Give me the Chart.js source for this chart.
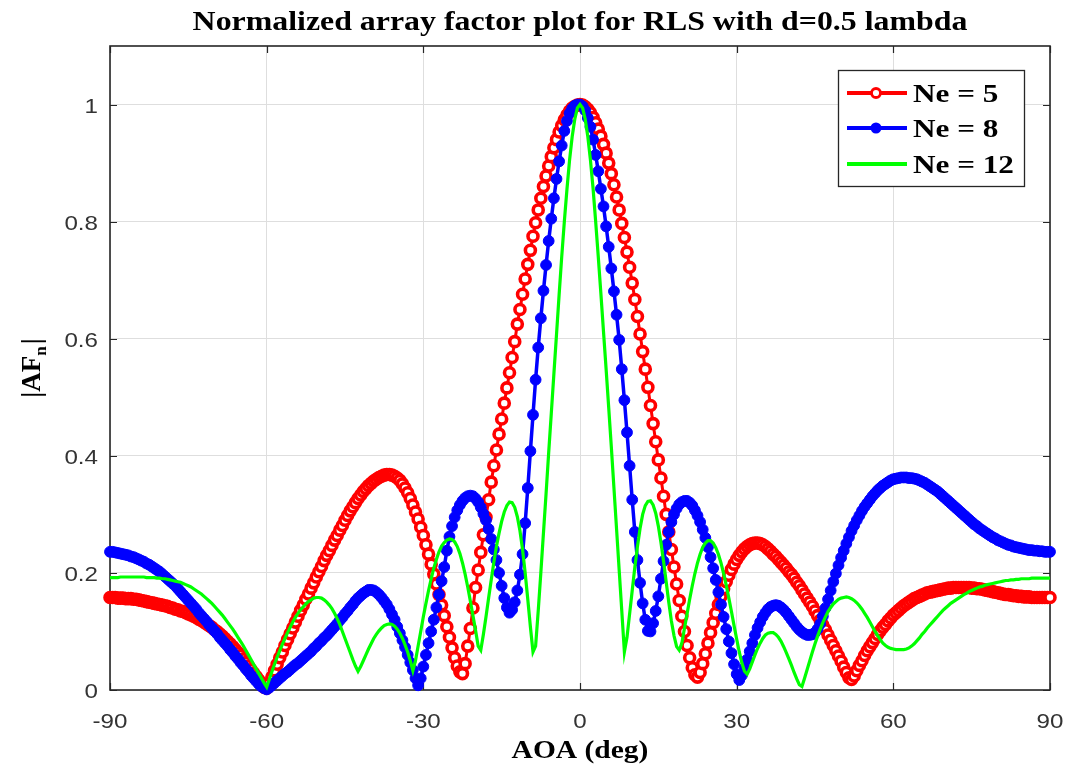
<!DOCTYPE html>
<html>
<head>
<meta charset="utf-8">
<title>Normalized array factor plot for RLS</title>
<script src="https://cdn.jsdelivr.net/npm/chart.js@4.4.0/dist/chart.umd.min.js"></script>
<style>
  html, body { margin: 0; padding: 0; background: #ffffff; }
  #contenedor { width: 1066px; height: 771px; }
</style>
</head>
<body>
<div id="contenedor"><canvas id="graficoAF" width="1066" height="771"></canvas></div>
<script>
// Rejilla de ángulos de llegada: de -90 a 90 grados, cada 0.5
const aoaInicio = -90;
const aoaPaso = 0.5;

// |AF_n|, una fila = 5 grados
const afNe5 = [
  0.158,0.158,0.158,0.157,0.157,0.157,0.156,0.156,0.156,0.155,
  0.155,0.154,0.153,0.152,0.151,0.150,0.149,0.148,0.147,0.146,
  0.145,0.144,0.143,0.141,0.140,0.138,0.137,0.135,0.134,0.132,
  0.130,0.128,0.126,0.124,0.121,0.119,0.116,0.113,0.110,0.107,
  0.103,0.100,0.096,0.092,0.088,0.083,0.079,0.074,0.069,0.064,
  0.059,0.053,0.047,0.041,0.035,0.029,0.023,0.017,0.011,0.005,
  0.003,0.012,0.022,0.033,0.044,0.055,0.065,0.076,0.086,0.096,
  0.106,0.116,0.126,0.136,0.145,0.155,0.164,0.174,0.183,0.193,
  0.202,0.211,0.221,0.230,0.238,0.247,0.256,0.264,0.273,0.281,
  0.290,0.298,0.306,0.313,0.320,0.327,0.333,0.339,0.344,0.349,
  0.353,0.357,0.360,0.363,0.365,0.367,0.368,0.368,0.367,0.365,
  0.362,0.358,0.352,0.345,0.337,0.327,0.316,0.304,0.292,0.278,
  0.264,0.248,0.232,0.215,0.198,0.181,0.163,0.145,0.127,0.108,
  0.090,0.072,0.055,0.041,0.031,0.028,0.045,0.075,0.105,0.140,
  0.175,0.205,0.235,0.265,0.295,0.325,0.355,0.383,0.410,0.437,
  0.463,0.490,0.516,0.542,0.568,0.595,0.625,0.650,0.676,0.702,
  0.727,0.751,0.775,0.798,0.820,0.840,0.860,0.878,0.895,0.911,
  0.926,0.940,0.953,0.964,0.974,0.982,0.989,0.994,0.997,0.999,
  1.000,0.999,0.996,0.992,0.986,0.978,0.969,0.958,0.946,0.932,
  0.917,0.900,0.882,0.863,0.842,0.820,0.797,0.773,0.748,0.722,
  0.695,0.667,0.638,0.608,0.578,0.548,0.517,0.486,0.455,0.424,
  0.393,0.362,0.331,0.300,0.270,0.240,0.210,0.181,0.153,0.126,
  0.100,0.076,0.055,0.038,0.026,0.022,0.030,0.045,0.062,0.080,
  0.098,0.115,0.131,0.146,0.160,0.173,0.185,0.196,0.206,0.215,
  0.223,0.230,0.236,0.241,0.245,0.248,0.250,0.251,0.251,0.250,
  0.248,0.245,0.241,0.237,0.232,0.228,0.223,0.218,0.213,0.208,
  0.202,0.197,0.191,0.184,0.178,0.171,0.164,0.157,0.150,0.143,
  0.135,0.127,0.119,0.111,0.103,0.094,0.085,0.076,0.067,0.058,
  0.049,0.039,0.030,0.021,0.018,0.024,0.033,0.042,0.050,0.059,
  0.067,0.074,0.081,0.088,0.095,0.101,0.107,0.112,0.118,0.123,
  0.128,0.132,0.136,0.140,0.144,0.147,0.150,0.153,0.156,0.158,
  0.160,0.162,0.164,0.166,0.167,0.168,0.169,0.170,0.171,0.172,
  0.173,0.174,0.174,0.175,0.175,0.175,0.175,0.175,0.175,0.175,
  0.174,0.174,0.173,0.173,0.172,0.171,0.170,0.169,0.168,0.167,
  0.166,0.165,0.164,0.163,0.163,0.162,0.161,0.161,0.160,0.160,
  0.159,0.159,0.159,0.158,0.158,0.158,0.158,0.158,0.158,0.158,
  0.158
];

const afNe8 = [
  0.236,0.236,0.235,0.234,0.233,0.232,0.231,0.230,0.228,0.227,
  0.225,0.223,0.221,0.219,0.216,0.214,0.211,0.208,0.205,0.202,
  0.198,0.194,0.190,0.186,0.182,0.178,0.173,0.168,0.163,0.158,
  0.153,0.148,0.143,0.138,0.132,0.127,0.122,0.117,0.111,0.106,
  0.101,0.096,0.090,0.085,0.080,0.075,0.069,0.064,0.058,0.053,
  0.047,0.042,0.036,0.031,0.025,0.020,0.015,0.010,0.006,0.003,
  0.001,0.004,0.008,0.012,0.016,0.020,0.024,0.028,0.031,0.035,
  0.039,0.043,0.046,0.050,0.054,0.058,0.062,0.066,0.071,0.075,
  0.080,0.084,0.089,0.093,0.098,0.103,0.108,0.113,0.119,0.124,
  0.130,0.135,0.141,0.146,0.152,0.157,0.161,0.165,0.168,0.171,
  0.171,0.170,0.167,0.163,0.158,0.152,0.146,0.138,0.129,0.120,
  0.108,0.097,0.085,0.073,0.060,0.047,0.034,0.020,0.008,0.020,
  0.040,0.060,0.080,0.100,0.120,0.141,0.163,0.186,0.210,0.238,
  0.262,0.280,0.295,0.307,0.316,0.323,0.328,0.331,0.332,0.331,
  0.327,0.321,0.312,0.301,0.290,0.275,0.258,0.240,0.222,0.200,
  0.178,0.157,0.141,0.132,0.137,0.150,0.170,0.197,0.232,0.285,
  0.345,0.408,0.470,0.530,0.585,0.635,0.682,0.726,0.767,0.805,
  0.840,0.873,0.903,0.930,0.955,0.972,0.985,0.993,0.998,1.000,
  1.000,0.997,0.990,0.977,0.962,0.940,0.914,0.886,0.856,0.826,
  0.792,0.757,0.720,0.681,0.641,0.598,0.548,0.495,0.440,0.383,
  0.325,0.270,0.222,0.183,0.148,0.120,0.101,0.100,0.114,0.135,
  0.160,0.190,0.220,0.248,0.270,0.287,0.300,0.310,0.317,0.321,
  0.323,0.323,0.320,0.315,0.307,0.298,0.287,0.274,0.260,0.244,
  0.227,0.208,0.188,0.167,0.146,0.125,0.104,0.083,0.063,0.044,
  0.027,0.017,0.025,0.038,0.052,0.066,0.080,0.094,0.106,0.116,
  0.125,0.132,0.138,0.142,0.144,0.145,0.144,0.141,0.137,0.132,
  0.126,0.120,0.114,0.108,0.103,0.099,0.096,0.094,0.094,0.095,
  0.098,0.104,0.113,0.126,0.140,0.155,0.170,0.185,0.199,0.213,
  0.226,0.238,0.250,0.261,0.272,0.281,0.290,0.298,0.306,0.313,
  0.319,0.325,0.331,0.336,0.341,0.345,0.349,0.352,0.355,0.358,
  0.360,0.361,0.362,0.363,0.363,0.363,0.362,0.362,0.361,0.360,
  0.358,0.356,0.354,0.351,0.348,0.345,0.342,0.339,0.335,0.331,
  0.327,0.323,0.319,0.315,0.311,0.307,0.303,0.299,0.295,0.291,
  0.287,0.283,0.280,0.276,0.273,0.270,0.267,0.264,0.261,0.259,
  0.256,0.254,0.252,0.250,0.248,0.247,0.245,0.244,0.243,0.242,
  0.241,0.240,0.239,0.239,0.238,0.238,0.237,0.237,0.236,0.236,
  0.236
];

const afNe12 = [
  0.192,0.192,0.192,0.192,0.193,0.193,0.193,0.193,0.193,0.193,
  0.193,0.193,0.193,0.193,0.192,0.192,0.192,0.192,0.191,0.191,
  0.190,0.190,0.189,0.188,0.187,0.186,0.185,0.184,0.182,0.180,
  0.178,0.176,0.173,0.170,0.167,0.164,0.160,0.156,0.152,0.148,
  0.143,0.138,0.133,0.128,0.122,0.116,0.110,0.104,0.097,0.090,
  0.083,0.076,0.068,0.060,0.052,0.044,0.036,0.028,0.020,0.012,
  0.005,0.018,0.031,0.044,0.056,0.067,0.078,0.088,0.098,0.107,
  0.116,0.124,0.131,0.137,0.142,0.147,0.151,0.154,0.157,0.158,
  0.158,0.157,0.154,0.150,0.145,0.139,0.131,0.122,0.112,0.100,
  0.088,0.076,0.064,0.052,0.041,0.032,0.040,0.050,0.060,0.070,
  0.079,0.088,0.095,0.101,0.106,0.110,0.112,0.113,0.112,0.109,
  0.104,0.097,0.088,0.077,0.065,0.050,0.033,0.050,0.075,0.100,
  0.125,0.148,0.170,0.190,0.208,0.223,0.236,0.246,0.252,0.256,
  0.258,0.257,0.253,0.245,0.233,0.217,0.198,0.176,0.152,0.127,
  0.102,0.075,0.068,0.095,0.125,0.157,0.188,0.218,0.245,0.268,
  0.288,0.304,0.315,0.321,0.320,0.312,0.296,0.272,0.240,0.200,
  0.155,0.108,0.065,0.075,0.135,0.200,0.268,0.335,0.405,0.472,
  0.540,0.607,0.675,0.740,0.800,0.855,0.905,0.945,0.975,0.994,
  1.000,0.994,0.975,0.945,0.905,0.857,0.800,0.740,0.677,0.612,
  0.548,0.482,0.415,0.345,0.275,0.205,0.135,0.065,0.090,0.130,
  0.170,0.210,0.245,0.276,0.300,0.315,0.322,0.323,0.316,0.302,
  0.280,0.252,0.220,0.185,0.150,0.118,0.093,0.074,0.068,0.080,
  0.105,0.130,0.155,0.178,0.199,0.217,0.232,0.244,0.251,0.255,
  0.255,0.251,0.243,0.232,0.217,0.199,0.179,0.157,0.134,0.110,
  0.087,0.065,0.046,0.032,0.027,0.036,0.048,0.060,0.071,0.080,
  0.088,0.094,0.097,0.098,0.098,0.095,0.090,0.083,0.074,0.064,
  0.053,0.042,0.030,0.019,0.009,0.006,0.020,0.035,0.050,0.065,
  0.079,0.092,0.104,0.115,0.125,0.134,0.141,0.147,0.151,0.155,
  0.157,0.158,0.159,0.158,0.156,0.153,0.149,0.144,0.138,0.131,
  0.124,0.116,0.108,0.100,0.093,0.086,0.080,0.076,0.073,0.071,
  0.070,0.069,0.069,0.069,0.069,0.070,0.072,0.075,0.079,0.084,
  0.089,0.095,0.100,0.106,0.111,0.116,0.121,0.126,0.131,0.136,
  0.140,0.144,0.148,0.151,0.154,0.157,0.160,0.163,0.165,0.168,
  0.170,0.172,0.174,0.176,0.177,0.179,0.180,0.181,0.182,0.183,
  0.184,0.185,0.186,0.187,0.187,0.188,0.188,0.189,0.189,0.190,
  0.190,0.190,0.190,0.191,0.191,0.191,0.191,0.191,0.191,0.191,
  0.191
];

const nombresSeries = ['Ne = 5', 'Ne = 8', 'Ne = 12'];
const coloresSeries = ['#ff0000', '#0000ff', '#00ff00'];
const xTicks = [-90, -60, -30, 0, 30, 60, 90];
const yTicks = [0, 0.2, 0.4, 0.6, 0.8, 1];
const titulo = 'Normalized array factor plot for RLS with d=0.5 lambda';
const tituloX = 'AOA (deg)';

// convierte una serie en puntos {x, y} sobre la rejilla de angulos
const aPuntos = serie => serie.map((v, i) => ({ x: aoaInicio + i * aoaPaso, y: v }));

// texto con un leve estiramiento horizontal, como en la figura original
function escribir(ctx, str, x, y, fuente, alinear, sx, color) {
  ctx.save();
  ctx.font = fuente;
  ctx.fillStyle = color || '#000000';
  ctx.textAlign = alinear;
  ctx.textBaseline = 'alphabetic';
  ctx.translate(x, y);
  ctx.scale(sx, 1);
  ctx.fillText(str, 0, 0);
  ctx.restore();
}

const SERIF = '"Liberation Serif", "DejaVu Serif", serif';
const SANS = '"Liberation Sans", Arial, sans-serif';

const marcoEjes = {
  id: 'marcoEjes',
  beforeDatasetsDraw(chart) {
    const { ctx, chartArea: a, scales: { x, y } } = chart;
    ctx.save();
    ctx.strokeStyle = '#262626';
    ctx.lineWidth = 1.2;
    ctx.beginPath();
    xTicks.forEach(v => {
      const px = Math.round(x.getPixelForValue(v)) + 0.5;
      ctx.moveTo(px, a.bottom); ctx.lineTo(px, a.bottom - 7);
      ctx.moveTo(px, a.top); ctx.lineTo(px, a.top + 7);
    });
    yTicks.forEach(v => {
      const py = Math.round(y.getPixelForValue(v)) + 0.5;
      ctx.moveTo(a.left, py); ctx.lineTo(a.left + 7, py);
      ctx.moveTo(a.right, py); ctx.lineTo(a.right - 7, py);
    });
    ctx.stroke();
    ctx.lineWidth = 1.6;
    ctx.strokeRect(a.left, a.top, a.right - a.left, a.bottom - a.top);
    ctx.restore();
  },
  afterDraw(chart) {
    const { ctx, chartArea: a, scales: { x, y } } = chart;
    const cx = (a.left + a.right) / 2;

    // titulo y etiquetas de ejes
    escribir(ctx, titulo, cx, 30, 'bold 27px ' + SERIF, 'center', 1.18);
    escribir(ctx, tituloX, cx, 758, 'bold 25px ' + SERIF, 'center', 1.18);

    xTicks.forEach(v => {
      escribir(ctx, String(v), x.getPixelForValue(v), 728, '21px ' + SANS, 'center', 1.15, '#333333');
    });
    yTicks.forEach(v => {
      escribir(ctx, String(v), a.left - 12, y.getPixelForValue(v) + 8, '21px ' + SANS, 'right', 1.15, '#333333');
    });

    // |AF_n| girado
    ctx.save();
    ctx.translate(32, (a.top + a.bottom) / 2);
    ctx.rotate(-Math.PI / 2);
    ctx.fillStyle = '#000000';
    const fGrande = 'bold 27px ' + SERIF;
    const fSub = 'bold 17px ' + SERIF;
    ctx.font = fGrande;
    const w1 = ctx.measureText('|AF').width;
    const w3 = ctx.measureText('|').width;
    ctx.font = fSub;
    const w2 = ctx.measureText('n').width;
    let px = -(w1 + w2 + w3 + 2) / 2;
    ctx.font = fGrande;
    ctx.fillText('|AF', px, 8);
    px += w1;
    ctx.font = fSub;
    ctx.fillText('n', px, 14);
    px += w2 + 2;
    ctx.font = fGrande;
    ctx.fillText('|', px, 8);
    ctx.restore();

    // leyenda con marco
    const lx = 838, ly = 70, lw = 186, lh = 116;
    ctx.save();
    ctx.fillStyle = '#ffffff';
    ctx.fillRect(lx, ly, lw, lh);
    ctx.strokeStyle = '#262626';
    ctx.lineWidth = 1.3;
    ctx.strokeRect(lx + 0.5, ly + 0.5, lw, lh);
    const filas = [93, 128, 164];
    filas.forEach((fy, i) => {
      ctx.strokeStyle = coloresSeries[i];
      ctx.lineWidth = 4;
      ctx.beginPath();
      ctx.moveTo(847, fy); ctx.lineTo(907, fy);
      ctx.stroke();
      if (i === 0) {
        ctx.fillStyle = '#ffffff';
        ctx.lineWidth = 2.8;
        ctx.beginPath(); ctx.arc(876, fy, 4.5, 0, Math.PI * 2); ctx.fill(); ctx.stroke();
      } else if (i === 1) {
        ctx.fillStyle = coloresSeries[1];
        ctx.beginPath(); ctx.arc(876, fy, 5.5, 0, Math.PI * 2); ctx.fill();
      }
      escribir(ctx, nombresSeries[i], 913, fy + 9, 'bold 26px ' + SERIF, 'left', 1.2);
    });
    ctx.restore();
  }
};

const ctx = document.getElementById('graficoAF').getContext('2d');
const grafico = new Chart(ctx, {
  type: 'line',
  data: {
    datasets: [
      {
        label: nombresSeries[0],
        data: aPuntos(afNe5),
        borderColor: coloresSeries[0],
        borderWidth: 3,
        pointRadius: 5,
        pointBorderWidth: 3.6,
        pointBackgroundColor: '#ffffff',
        pointBorderColor: coloresSeries[0],
        clip: false,
        order: 3
      },
      {
        label: nombresSeries[1],
        data: aPuntos(afNe8),
        borderColor: coloresSeries[1],
        borderWidth: 3.5,
        pointRadius: 5.4,
        pointBorderWidth: 1,
        pointBackgroundColor: coloresSeries[1],
        pointBorderColor: coloresSeries[1],
        clip: false,
        order: 2
      },
      {
        label: nombresSeries[2],
        data: aPuntos(afNe12),
        borderColor: coloresSeries[2],
        borderWidth: 3.2,
        pointRadius: 0,
        clip: false,
        order: 1
      }
    ]
  },
  options: {
    responsive: false,
    animation: false,
    layout: { padding: { top: 46, right: 16, left: 0, bottom: 0 } },
    plugins: {
      legend: { display: false },
      tooltip: { enabled: false }
    },
    scales: {
      x: {
        type: 'linear',
        min: -90,
        max: 90,
        afterBuildTicks: s => { s.ticks = xTicks.map(v => ({ value: v })); },
        afterFit: s => { s.height = 81; },
        ticks: { display: false },
        grid: { color: '#dedede', lineWidth: 1, drawTicks: false },
        border: { display: false }
      },
      y: {
        type: 'linear',
        min: 0,
        max: 1.1,
        afterBuildTicks: s => { s.ticks = yTicks.map(v => ({ value: v })); },
        afterFit: s => { s.width = 110; },
        ticks: { display: false },
        grid: { color: '#dedede', lineWidth: 1, drawTicks: false },
        border: { display: false }
      }
    }
  },
  plugins: [marcoEjes]
});
</script>
</body>
</html>
